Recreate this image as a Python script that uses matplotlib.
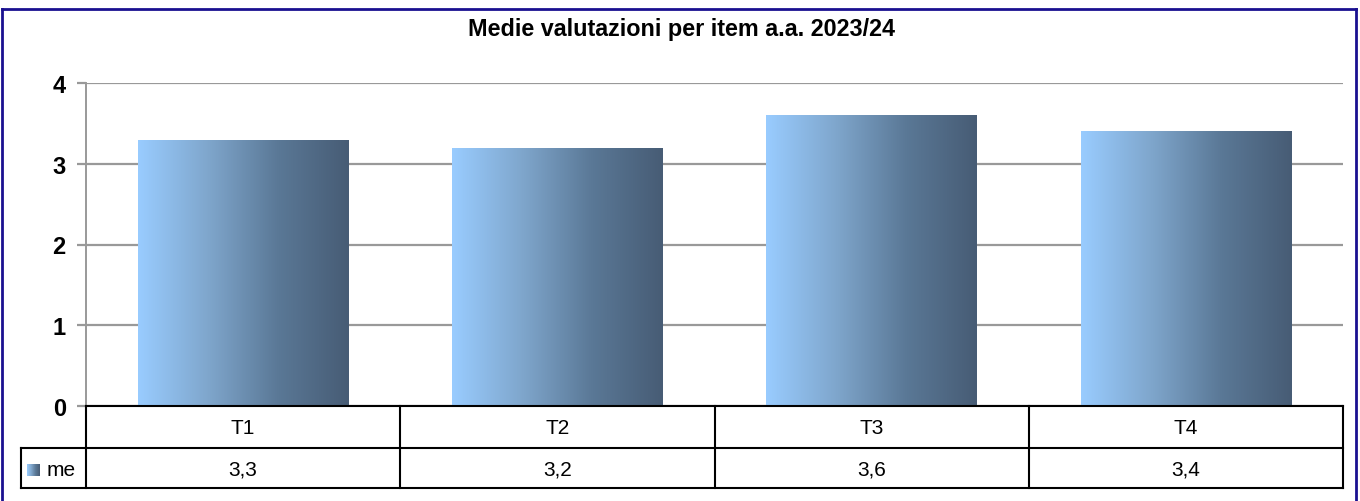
import numpy as np
import matplotlib
matplotlib.use("Agg")
import matplotlib.pyplot as plt
from matplotlib.colors import LinearSegmentedColormap
from matplotlib.lines import Line2D
import matplotlib.transforms as mtransforms

categories = ["T1", "T2", "T3", "T4"]
values = [3.3, 3.2, 3.6, 3.4]
value_labels = ["3,3", "3,2", "3,6", "3,4"]
series_name = "me"
yticks = [0, 1, 2, 3, 4]
title = "Medie valutazioni per item a.a. 2023/24"

plt.rcParams['font.family'] = ['Liberation Sans', 'DejaVu Sans']

W, H = 1360, 502
fig = plt.figure(figsize=(W / 100, H / 100), dpi=100)
ax = fig.add_axes([86 / W, 95 / H, (1343 - 86) / W, (407 - 84) / H])

cmap = LinearSegmentedColormap.from_list("grad", ["#99CCFF", "#7FA6CC", "#5A7896", "#475C75"])
grad = np.linspace(0, 1, 256).reshape(1, -1)

x = np.arange(len(categories))
bars = ax.bar(x, values, width=0.67, color="none", edgecolor="none", zorder=3)
for b in bars:
    x0, w, h = b.get_x(), b.get_width(), b.get_height()
    im = ax.imshow(grad, cmap=cmap, aspect="auto", extent=[x0, x0 + w, 0, h],
                   zorder=3, interpolation="bilinear")
    im.set_clip_path(b)

ax.set_xlim(-0.5, len(categories) - 0.5)
ax.set_ylim(0, 4)
ax.set_yticks(yticks)
ax.set_yticklabels([str(t) for t in yticks], fontsize=17, fontweight="bold")
ax.yaxis.grid(True, color="#999999", linewidth=1.6, zorder=1)
ax.set_axisbelow(True)
ax.tick_params(axis="y", length=6.5, width=1.6, color="#999999", pad=8)
ax.set_xticks([])
for s in ["top", "right", "bottom"]:
    ax.spines[s].set_visible(False)
ax.spines["left"].set_color("#999999")
ax.spines["left"].set_linewidth(1.4)


def fy(ypx):
    return (H - ypx) / H


blend = mtransforms.blended_transform_factory(ax.transData, fig.transFigure)
figt = fig.transFigure
lw = 1.5
y_top, y_mid, y_bot = 407, 449, 489
n = len(categories)
fig.add_artist(Line2D([86 / W, 1343 / W], [fy(y_top)] * 2, transform=figt, color="black", lw=lw))
fig.add_artist(Line2D([21 / W, 1343 / W], [fy(y_mid)] * 2, transform=figt, color="black", lw=lw))
fig.add_artist(Line2D([21 / W, 1343 / W], [fy(y_bot)] * 2, transform=figt, color="black", lw=lw))
for i in range(n + 1):
    fig.add_artist(Line2D([i - 0.5, i - 0.5], [fy(y_top), fy(y_bot)], transform=blend,
                          color="black", lw=lw))
fig.add_artist(Line2D([21 / W, 21 / W], [fy(y_mid), fy(y_bot)], transform=figt, color="black", lw=lw))
for i, (c, v) in enumerate(zip(categories, value_labels)):
    fig.text(i, fy((y_top + y_mid) / 2 + 1), c, transform=blend, ha="center", va="center", fontsize=15)
    fig.text(i, fy((y_mid + y_bot) / 2 + 1), v, transform=blend, ha="center", va="center", fontsize=15)
fig.text(47 / W, fy((y_mid + y_bot) / 2 + 2), series_name, ha="left", va="center", fontsize=15)

sax = fig.add_axes([27 / W, (H - 477) / H, 13 / W, 12 / H])
sax.imshow(grad, cmap=cmap, aspect="auto", interpolation="bilinear")
sax.axis("off")

fig.text(681 / W, fy(30), title, ha="center", va="center", fontsize=16.8, fontweight="bold")

navy = "#1A1090"
fig.add_artist(Line2D([1.5 / W, 1356 / W], [fy(9.5)] * 2, transform=figt, color=navy, lw=2))
fig.add_artist(Line2D([1.5 / W, 1.5 / W], [fy(9.5), 0], transform=figt, color=navy, lw=2))
fig.add_artist(Line2D([1356 / W, 1356 / W], [fy(9.5), 0], transform=figt, color=navy, lw=2))

fig.savefig("out.png", dpi=100)
